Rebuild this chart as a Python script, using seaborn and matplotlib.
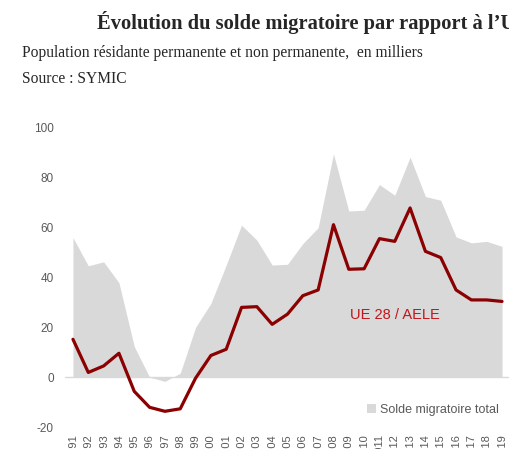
import pandas as pd
import matplotlib.pyplot as plt
import seaborn as sns

# Solde migratoire, en milliers
years = list(range(1991, 2020))
solde_total = [56, 44.7, 46.3, 37.9, 12.3, 0, -1.7, 1.6, 20, 29.6, 45, 61, 55,
               45, 45.3, 53.6, 60, 89.6, 66.7, 67, 77.3, 73, 88.3, 72.5, 71,
               56.3, 53.9, 54.5, 52.5]
solde_ue_aele = [15.2, 1.9, 4.5, 9.6, -5.7, -12.1, -13.7, -12.7, -0.4, 8.7, 11.2,
                 28, 28.3, 21.2, 25.3, 32.7, 35, 61.2, 43.3, 43.5, 55.6, 54.5,
                 67.9, 50.5, 48, 35, 31, 31, 30.4]
year_labels = [str(y) for y in years]
y_ticks = [-20, 0, 20, 40, 60, 80, 100]

df = pd.DataFrame({"annee": years, "total": solde_total, "ue_aele": solde_ue_aele})

sns.set_style("white")
plt.rcParams['font.family'] = ['Liberation Sans', 'DejaVu Sans']

fig = plt.figure(figsize=(5.1, 4.49), dpi=100)
ax = fig.add_axes([65 / 510, 22 / 449, 445 / 510, 299 / 449])

ax.fill_between(df["annee"], df["total"], 0, color="#d9d9d9", linewidth=0,
                label="Solde migratoire total")
ax.axhline(0, color="#d9d9d9", linewidth=1, zorder=1)
sns.lineplot(data=df, x="annee", y="ue_aele", color="#8b0000", linewidth=2.3,
             ax=ax, legend=False)

ax.text(2012, 25, "UE 28 / AELE", color="#c0151b", fontsize=10.5,
        ha="center", va="center")

ax.set_xlim(1990.48, 2019.52)
ax.set_ylim(-20, 100)
ax.set_xticks(years)
ax.set_xticklabels(year_labels, rotation=90, fontsize=8, color="#595959")
ax.set_yticks(y_ticks)
ax.set_yticklabels([str(v) for v in y_ticks], fontsize=8.5, color="#595959")
ax.tick_params(axis="both", length=0)
ax.tick_params(axis="x", pad=5)
ax.tick_params(axis="y", pad=8)
ax.set_xlabel("")
ax.set_ylabel("")
for s in ax.spines.values():
    s.set_visible(False)

leg = ax.legend(loc="lower right", bbox_to_anchor=(1.0, 0.0), frameon=False,
                handlelength=0.7, handleheight=0.7, handletextpad=0.3,
                fontsize=9)
for t in leg.get_texts():
    t.set_color("#595959")

fig.text(97 / 510, 1 - 23 / 449, "Évolution du solde migratoire par rapport à l’UE",
         fontsize=14.8, fontweight="bold", family="Liberation Serif",
         ha="left", va="center")
fig.text(22 / 510, 1 - 53 / 449,
         "Population résidante permanente et non permanente,  en milliers",
         fontsize=11.2, family="Liberation Serif", ha="left", va="center")
fig.text(22 / 510, 1 - 79 / 449, "Source : SYMIC",
         fontsize=11.2, family="Liberation Serif", ha="left", va="center")

fig.savefig("out.png", dpi=100)
